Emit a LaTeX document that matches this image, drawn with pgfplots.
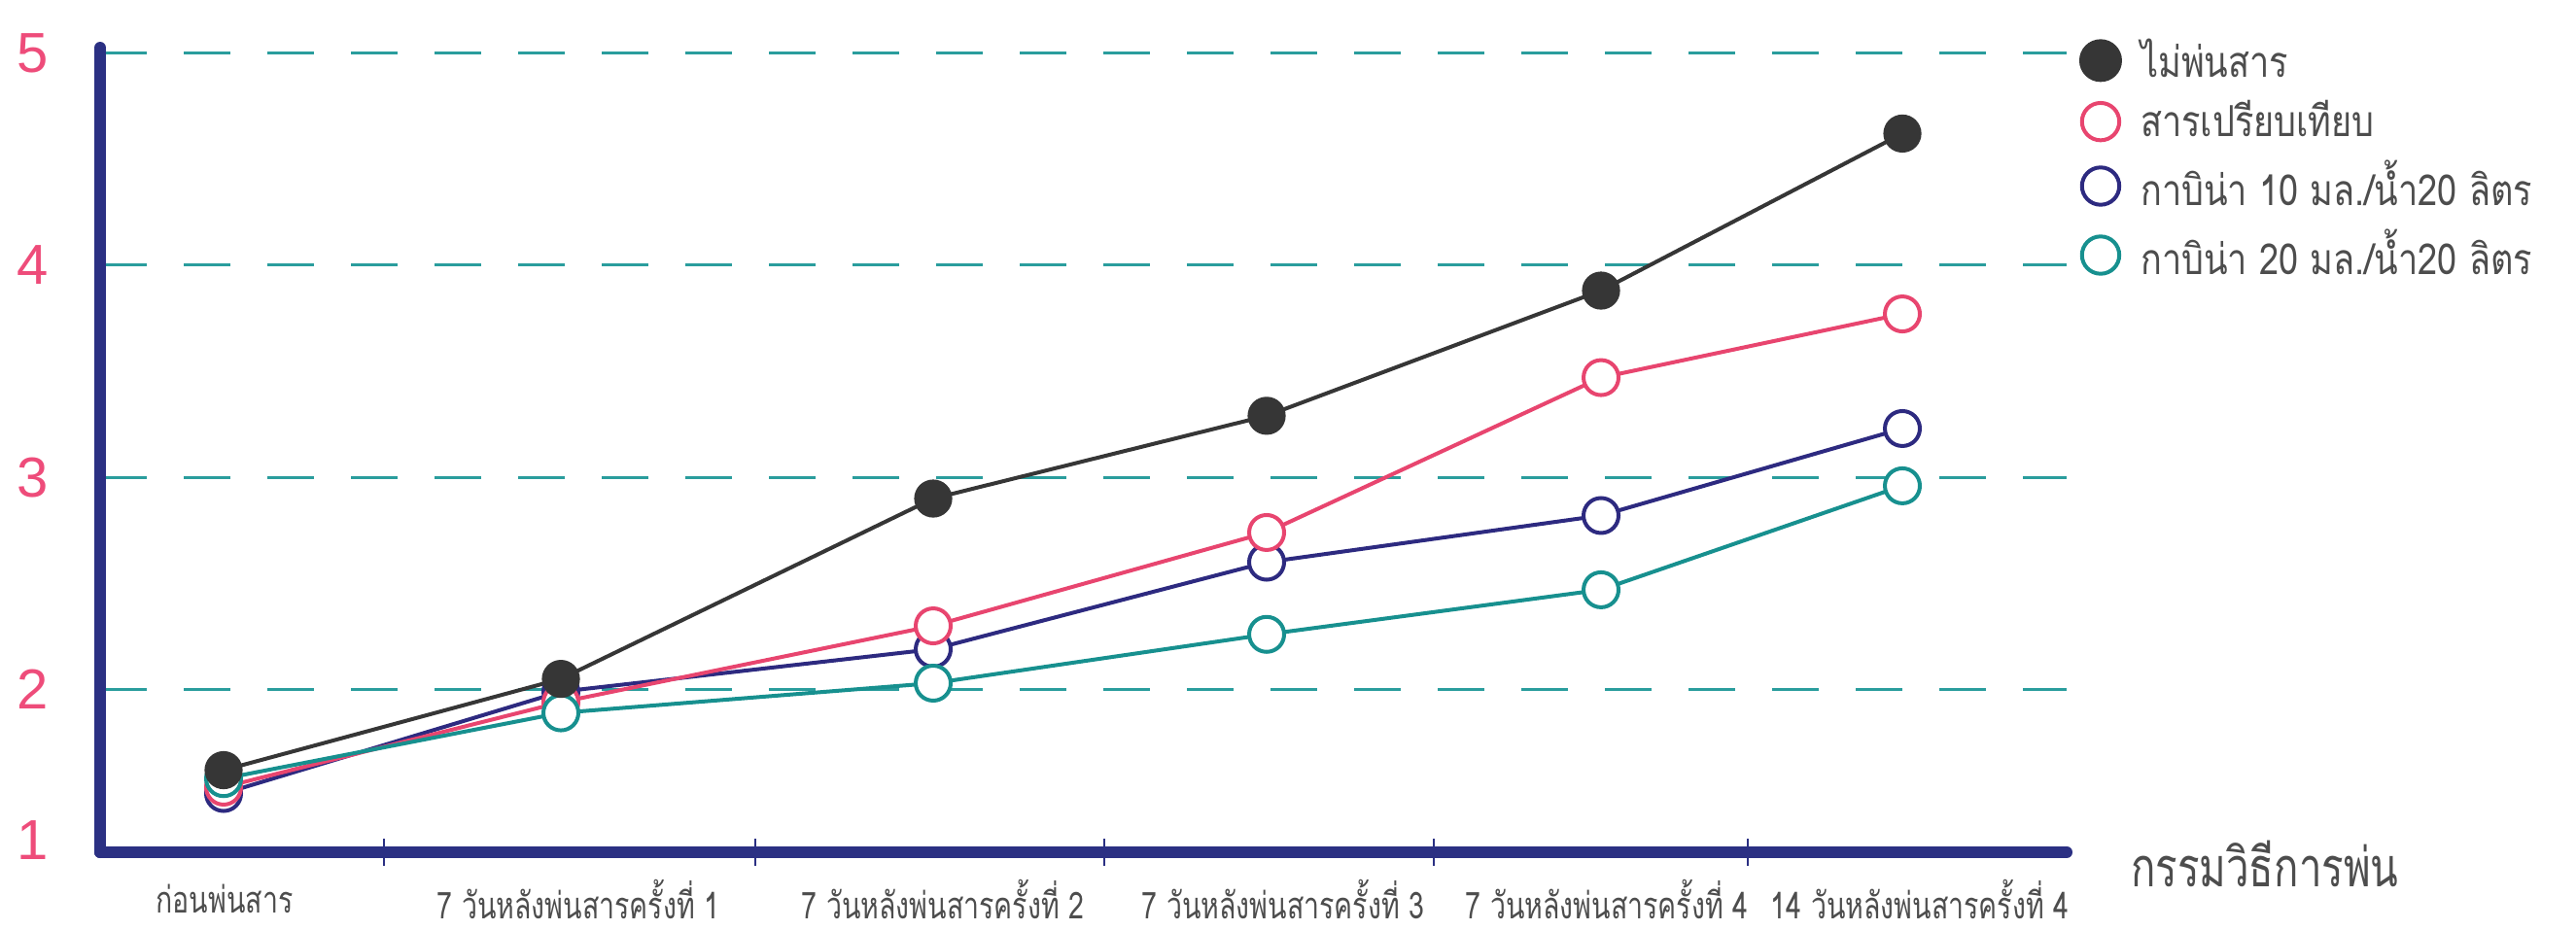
\documentclass[border=0pt]{standalone}
\usepackage{fontspec}
\usepackage{pgfplots}
\pgfplotsset{compat=1.18}
\setmainfont{Liberation Sans}
\newfontfamily\thaifont[Script=Thai,FakeStretch=0.82]{Loma}
\newfontfamily\thaicond[Script=Thai,FakeStretch=0.75]{Loma}
\definecolor{blackS}{HTML}{363636}
\definecolor{pinkS}{HTML}{E8456F}
\definecolor{navyS}{HTML}{2D2A80}
\definecolor{tealS}{HTML}{17908F}
\definecolor{axisc}{HTML}{2B3083}
\definecolor{gridc}{HTML}{2A9D9D}
\definecolor{pinkL}{HTML}{EE4C7A}
\definecolor{textc}{HTML}{4D4D4D}
\begin{document}
\begin{tikzpicture}
\path[use as bounding box] (-25.75pt,-19.75pt) rectangle (636.75pt,219.25pt);
\begin{axis}[
  at={(0pt,0pt)}, anchor=south west,
  scale only axis, width=505.75pt, height=207pt,
  xmin=1.03, xmax=21.26, ymin=1.233, ymax=5.025,
  axis x line=bottom, axis y line=left,
  axis line style={-, line width=3pt, draw=axisc, line cap=round},
  clip=false,
  xtick={2.31,5.95,9.70,13.20,16.53,19.75},
  xticklabels={ก่อนพ่นสาร,7 วันหลังพ่นสารครั้งที่ 1,7 วันหลังพ่นสารครั้งที่ 2,7 วันหลังพ่นสารครั้งที่ 3,7 วันหลังพ่นสารครั้งที่ 4,14 วันหลังพ่นสารครั้งที่ 4},
  minor xtick={3.95,7.77,11.36,14.75,17.98},
  major tick length=0pt,
  minor tick length=7pt,
  tick align=center,
  minor tick style={line width=0.5pt, draw=axisc},
  xticklabel style={font=\thaicond\fontsize{9.5}{10}\selectfont, text=textc, anchor=center, yshift=-12pt},
  ytick={2,3,4,5}, yticklabels={2,3,4,5},
  extra y ticks={1.29}, extra y tick labels={1},
  extra y tick style={grid=none},
  ymajorgrids,
  grid style={dash pattern=on 12pt off 9.5pt, line width=0.8pt, draw=gridc},
  yticklabel style={font=\fontsize{14.5}{16}\selectfont, text=pinkL, anchor=east, inner sep=0pt, xshift=-13pt},
  xlabel={กรรมวิธีการพ่น},
  xlabel style={at={(rel axis cs:1,0)}, anchor=west, xshift=13pt, yshift=-3pt, font=\thaicond\fontsize{14}{16}\selectfont, text=textc},
  legend image code/.code={\draw[#1] plot coordinates {(0pt,0pt)};},
  legend style={at={(rel axis cs:1.0064,1.022)}, anchor=north west, draw=none, fill=none, inner sep=0pt,
    font=\thaifont\fontsize{11}{12}\selectfont, text=textc, row sep=0.6pt,
    /tikz/every odd column/.append style={column sep=3pt}},
  legend cell align=left,
]
\addlegendimage{only marks, mark=*, mark size=5.3pt, color=blackS}
\addlegendentry{ไม่พ่นสาร}
\addlegendimage{only marks, mark=o, mark size=4.8pt, line width=1pt, color=pinkS}
\addlegendentry{สารเปรียบเทียบ}
\addlegendimage{only marks, mark=o, mark size=4.8pt, line width=1pt, color=navyS}
\addlegendentry{กาบิน่า 10 มล./น้ำ20 ลิตร}
\addlegendimage{only marks, mark=o, mark size=4.8pt, line width=1pt, color=tealS}
\addlegendentry{กาบิน่า 20 มล./น้ำ20 ลิตร}

\addplot[forget plot, color=navyS, line width=1pt, mark=*, mark size=4.5pt, mark options={fill=white, line width=1pt}]
  coordinates {(2.30,1.51) (5.77,1.99) (9.60,2.19) (13.03,2.60) (16.47,2.82) (19.57,3.23)};
\addplot[forget plot, color=pinkS, line width=1pt, mark=*, mark size=4.5pt, mark options={fill=white, line width=1pt}]
  coordinates {(2.30,1.54) (5.77,1.94) (9.60,2.30) (13.03,2.74) (16.47,3.47) (19.57,3.77)};
\addplot[forget plot, color=tealS, line width=1pt, mark=*, mark size=4.5pt, mark options={fill=white, line width=1pt}]
  coordinates {(2.30,1.58) (5.77,1.89) (9.60,2.03) (13.03,2.26) (16.47,2.47) (19.57,2.96)};
\addplot[forget plot, color=blackS, line width=1pt, mark=*, mark size=4.4pt, mark options={fill=blackS}]
  coordinates {(2.30,1.62) (5.77,2.05) (9.60,2.90) (13.03,3.29) (16.47,3.88) (19.57,4.62)};
\end{axis}
\end{tikzpicture}
\end{document}
